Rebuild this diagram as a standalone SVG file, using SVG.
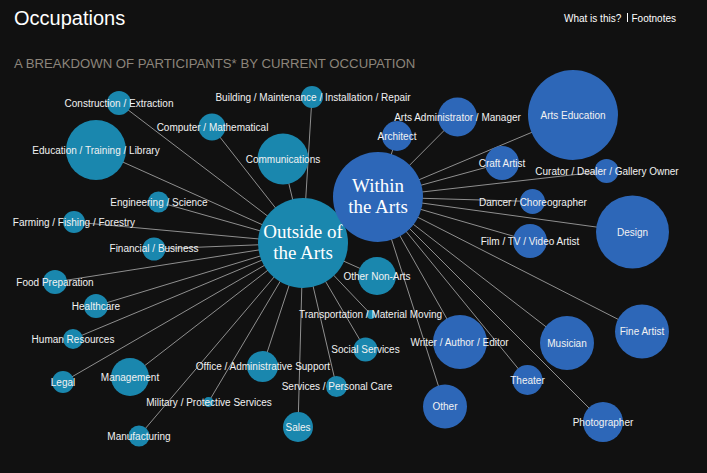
<svg xmlns="http://www.w3.org/2000/svg" width="707" height="473" viewBox="0 0 707 473">
<style>
.bg{fill:#111111}
.ln{stroke:#8f8f8f;stroke-width:1;fill:none}
.t{fill:#1a87ae}
.b{fill:#2d67b8}
.lb{font-family:"Liberation Sans",Arial,Helvetica,sans-serif;font-size:10px;fill:#f2f2f2;text-anchor:middle}
.hub{font-family:"Liberation Serif","Times New Roman",serif;font-size:19px;fill:#ffffff;text-anchor:middle}
.title{font-family:"Liberation Sans",Arial,Helvetica,sans-serif;font-size:20px;fill:#ffffff}
.sub{font-family:"Liberation Sans",Arial,Helvetica,sans-serif;font-size:13.2px;fill:#8c857b}
.nav{font-family:"Liberation Sans",Arial,Helvetica,sans-serif;font-size:10px;fill:#ffffff}
</style>
<rect class="bg" x="0" y="0" width="707" height="473"/>
<text class="title" x="14" y="24.5">Occupations</text>
<text class="nav" x="564" y="21.5">What is this?</text>
<line x1="627.5" y1="13" x2="627.5" y2="22" stroke="#ffffff" stroke-width="1"/>
<text class="nav" x="631.5" y="21.5">Footnotes</text>
<text class="sub" x="14" y="68">A BREAKDOWN OF PARTICIPANTS* BY CURRENT OCCUPATION</text>
<g id="connectors">
<line class="ln" x1="303" y1="243" x2="119" y2="103"/>
<line class="ln" x1="303" y1="243" x2="96" y2="150"/>
<line class="ln" x1="303" y1="243" x2="212" y2="127"/>
<line class="ln" x1="303" y1="243" x2="312" y2="97"/>
<line class="ln" x1="303" y1="243" x2="283" y2="159"/>
<line class="ln" x1="303" y1="243" x2="158.5" y2="202"/>
<line class="ln" x1="303" y1="243" x2="74" y2="222"/>
<line class="ln" x1="303" y1="243" x2="154" y2="249"/>
<line class="ln" x1="303" y1="243" x2="55" y2="282"/>
<line class="ln" x1="303" y1="243" x2="96" y2="306"/>
<line class="ln" x1="303" y1="243" x2="73" y2="339"/>
<line class="ln" x1="303" y1="243" x2="63" y2="382"/>
<line class="ln" x1="303" y1="243" x2="130" y2="377"/>
<line class="ln" x1="303" y1="243" x2="139" y2="436"/>
<line class="ln" x1="303" y1="243" x2="208.5" y2="402"/>
<line class="ln" x1="303" y1="243" x2="262.5" y2="366.5"/>
<line class="ln" x1="303" y1="243" x2="298" y2="427"/>
<line class="ln" x1="303" y1="243" x2="336.5" y2="386.5"/>
<line class="ln" x1="303" y1="243" x2="365.5" y2="349.5"/>
<line class="ln" x1="303" y1="243" x2="371" y2="314.5"/>
<line class="ln" x1="303" y1="243" x2="377" y2="276"/>
<line class="ln" x1="378" y1="197" x2="397" y2="136"/>
<line class="ln" x1="378" y1="197" x2="457.5" y2="117"/>
<line class="ln" x1="378" y1="197" x2="573" y2="115"/>
<line class="ln" x1="378" y1="197" x2="502" y2="163"/>
<line class="ln" x1="378" y1="197" x2="606.5" y2="171"/>
<line class="ln" x1="378" y1="197" x2="532.5" y2="201.5"/>
<line class="ln" x1="378" y1="197" x2="632.5" y2="232"/>
<line class="ln" x1="378" y1="197" x2="530" y2="241"/>
<line class="ln" x1="378" y1="197" x2="642" y2="331.5"/>
<line class="ln" x1="378" y1="197" x2="567" y2="343"/>
<line class="ln" x1="378" y1="197" x2="460" y2="342"/>
<line class="ln" x1="378" y1="197" x2="527.5" y2="380"/>
<line class="ln" x1="378" y1="197" x2="445" y2="406.5"/>
<line class="ln" x1="378" y1="197" x2="603" y2="422"/>
</g>
<g id="outside"><circle class="t" cx="303" cy="243" r="45"/><text class="hub" x="303" y="238">Outside of</text><text class="hub" x="303" y="259">the Arts</text></g>
<g id="within"><circle class="b" cx="378" cy="197" r="45"/><text class="hub" x="378" y="192">Within</text><text class="hub" x="378" y="213">the Arts</text></g>
<g id="construction"><circle class="t" cx="119" cy="103" r="12"/><text class="lb" x="119" y="106.5">Construction / Extraction</text></g>
<g id="education"><circle class="t" cx="96" cy="150" r="30"/><text class="lb" x="96" y="153.5">Education / Training / Library</text></g>
<g id="computer"><circle class="t" cx="212" cy="127" r="13.5"/><text class="lb" x="212.5" y="130.5">Computer / Mathematical</text></g>
<g id="building"><circle class="t" cx="312" cy="97" r="11"/><text class="lb" x="313" y="100.5">Building / Maintenance / Installation / Repair</text></g>
<g id="communications"><circle class="t" cx="283" cy="159" r="25.5"/><text class="lb" x="283" y="162.5">Communications</text></g>
<g id="engineering"><circle class="t" cx="158.5" cy="202" r="10.5"/><text class="lb" x="159" y="205.5">Engineering / Science</text></g>
<g id="farming"><circle class="t" cx="74" cy="222" r="11"/><text class="lb" x="74" y="225.5">Farming / Fishing / Forestry</text></g>
<g id="financial"><circle class="t" cx="154" cy="249" r="11.5"/><text class="lb" x="154" y="252">Financial / Business</text></g>
<g id="food"><circle class="t" cx="55" cy="282" r="12"/><text class="lb" x="55" y="285.5">Food Preparation</text></g>
<g id="healthcare"><circle class="t" cx="96" cy="306" r="12"/><text class="lb" x="96" y="309.5">Healthcare</text></g>
<g id="hr"><circle class="t" cx="73" cy="339" r="10"/><text class="lb" x="73" y="342.5">Human Resources</text></g>
<g id="legal"><circle class="t" cx="63" cy="382" r="11"/><text class="lb" x="63" y="385.5">Legal</text></g>
<g id="management"><circle class="t" cx="130" cy="377" r="19"/><text class="lb" x="130" y="380.5">Management</text></g>
<g id="manufacturing"><circle class="t" cx="139" cy="436" r="10.5"/><text class="lb" x="139" y="440">Manufacturing</text></g>
<g id="military"><circle class="t" cx="208.5" cy="402" r="5"/><text class="lb" x="209" y="405.5">Military / Protective Services</text></g>
<g id="office"><circle class="t" cx="262.5" cy="366.5" r="15.5"/><text class="lb" x="263" y="370">Office / Administrative Support</text></g>
<g id="sales"><circle class="t" cx="298" cy="427" r="15"/><text class="lb" x="298" y="430.5">Sales</text></g>
<g id="personalcare"><circle class="t" cx="336.5" cy="386.5" r="10.5"/><text class="lb" x="337" y="390">Services / Personal Care</text></g>
<g id="social"><circle class="t" cx="365.5" cy="349.5" r="12"/><text class="lb" x="365.5" y="353">Social Services</text></g>
<g id="transport"><circle class="t" cx="371" cy="314.5" r="4.5"/><text class="lb" x="370.5" y="318">Transportation / Material Moving</text></g>
<g id="othernonarts"><circle class="t" cx="377" cy="276" r="19"/><text class="lb" x="377" y="280">Other Non-Arts</text></g>
<g id="architect"><circle class="b" cx="397" cy="136" r="15"/><text class="lb" x="397" y="139.5">Architect</text></g>
<g id="artsadmin"><circle class="b" cx="457.5" cy="117" r="19.5"/><text class="lb" x="457.5" y="120.5">Arts Administrator / Manager</text></g>
<g id="artsedu"><circle class="b" cx="573" cy="115" r="45"/><text class="lb" x="573" y="118.5">Arts Education</text></g>
<g id="craft"><circle class="b" cx="502" cy="163" r="17"/><text class="lb" x="502" y="166.5">Craft Artist</text></g>
<g id="curator"><circle class="b" cx="606.5" cy="171" r="12"/><text class="lb" x="607" y="174.5">Curator / Dealer / Gallery Owner</text></g>
<g id="dancer"><circle class="b" cx="532.5" cy="201.5" r="12.5"/><text class="lb" x="533" y="205.5">Dancer / Choreographer</text></g>
<g id="design"><circle class="b" cx="632.5" cy="232" r="36.5"/><text class="lb" x="632.5" y="235.5">Design</text></g>
<g id="film"><circle class="b" cx="530" cy="241" r="17"/><text class="lb" x="530" y="244.5">Film / TV / Video Artist</text></g>
<g id="fineartist"><circle class="b" cx="642" cy="331.5" r="27"/><text class="lb" x="642" y="335">Fine Artist</text></g>
<g id="musician"><circle class="b" cx="567" cy="343" r="27"/><text class="lb" x="567" y="346.5">Musician</text></g>
<g id="writer"><circle class="b" cx="460" cy="342" r="27"/><text class="lb" x="459.5" y="345.5">Writer / Author / Editor</text></g>
<g id="theater"><circle class="b" cx="527.5" cy="380" r="15"/><text class="lb" x="527.5" y="383.5">Theater</text></g>
<g id="other"><circle class="b" cx="445" cy="406.5" r="22"/><text class="lb" x="445" y="410">Other</text></g>
<g id="photographer"><circle class="b" cx="603" cy="422" r="20"/><text class="lb" x="603" y="425.5">Photographer</text></g>
</svg>
